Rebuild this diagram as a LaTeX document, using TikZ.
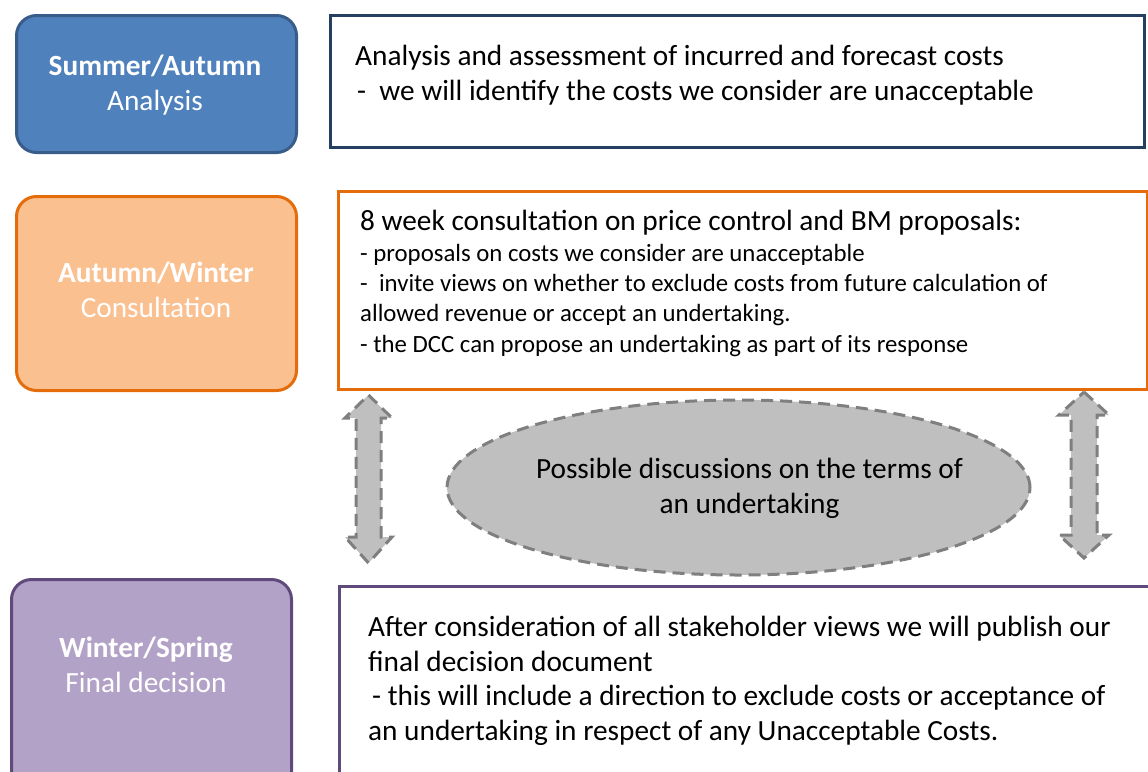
\documentclass[tikz,border=0pt]{standalone}
\usepackage{fontspec}
\setmainfont{Carlito}
\usetikzlibrary{shapes.geometric}
\definecolor{blueF}{HTML}{4F81BD}
\definecolor{blueD}{HTML}{385D8A}
\definecolor{navy}{HTML}{243F60}
\definecolor{orangeF}{HTML}{FAC090}
\definecolor{orangeD}{HTML}{E46C0A}
\definecolor{purpleF}{HTML}{B3A2C7}
\definecolor{purpleD}{HTML}{604A7B}
\definecolor{grayF}{HTML}{BFBFBF}
\definecolor{grayD}{HTML}{7F7F7F}
\begin{document}
\begin{tikzpicture}[x=1pt,y=-1pt,
  phase/.style={draw, line width=3pt, rounded corners=20pt, anchor=north west, inner sep=0pt},
  body/.style={draw, line width=3pt, fill=white, anchor=north west, inner sep=0pt},
  title/.style={anchor=base, inner sep=0pt, align=center, text=white, font=\fontsize{29.3}{35}\selectfont},
  txt/.style={anchor=base west, inner sep=0pt, align=left, font=\fontsize{29.3}{35}\selectfont},
  smalltxt/.style={anchor=base west, inner sep=0pt, align=left, font=\fontsize{24.8}{30.3}\selectfont},
  dashgray/.style={draw=grayD, fill=grayF, line width=3pt, dash pattern=on 12pt off 7pt},
  dblarr/.style={dashgray, line join=miter}]
\useasboundingbox (0,0) rectangle (1148,771);
\clip (0,0) rectangle (1148,771);

% phase boxes
\node[phase, fill=blueF, draw=blueD, minimum width=280pt, minimum height=137pt] (p1) at (15,14) {};
\node[phase, fill=orangeF, draw=orangeD, minimum width=280pt, minimum height=194pt] (p2) at (15,195) {};
\node[phase, fill=purpleF, draw=purpleD, minimum width=280pt, minimum height=260pt] (p3) at (10,578) {};

% (anchor base = baseline of the last line)
\node[title] (t1) at (155,110) {\textbf{Summer/Autumn}\\Analysis};
\node[title] (t2) at (156,317) {\textbf{Autumn/Winter}\\Consultation};
\node[title] (t3) at (146,692) {\textbf{Winter/Spring}\\Final decision};

% body boxes
\node[body, draw=navy, minimum width=814pt, minimum height=132pt] (b1) at (329,14) {};
\node[body, draw=orangeD, minimum width=809pt, minimum height=198pt] (b2) at (337,190) {};
\node[body, draw=purpleD, minimum width=880pt, minimum height=260pt] (b3) at (338,585) {};

\node[txt] (x1) at (355,100) {Analysis and assessment of incurred and forecast costs\\\hspace*{2pt}-\ \ we will identify the costs we consider are unacceptable};

\node[txt] (x2a) at (360,230) {8 week consultation on price control and BM proposals:};
\node[smalltxt] (x2b) at (360,352) {- proposals on costs we consider are unacceptable\\
-\ \ invite views on whether to exclude costs from future calculation of\\
allowed revenue or accept an undertaking.\\
- the DCC can propose an undertaking as part of its response};

\node[txt, font=\fontsize{29.3}{34.5}\selectfont] (x3) at (368,740) {After consideration of all stakeholder views we will publish our\\
final decision document\\
\hspace*{4pt}- this will include a direction to exclude costs or acceptance of\\
an undertaking in respect of any Unacceptable Costs.};

% ellipse
\node[ellipse, dashgray, inner sep=0pt, minimum width=583pt, minimum height=175pt] (e) at (738.5,487.5) {};
\node[align=center, inner sep=0pt, font=\fontsize{29.3}{35}\selectfont] (et) at ([xshift=11pt,yshift=-1pt]e.center)
  {Possible discussions on the terms of\\an undertaking};

% double arrows
\draw[dblarr] (368.5,395) -- (392,418) -- (381,418) -- (381,537) -- (392,537) -- (368.5,563)
  -- (345,537) -- (356,537) -- (356,418) -- (345,418) -- cycle;
\draw[dblarr] (1084,392) -- (1109,415) -- (1097,415) -- (1097,535) -- (1109,535) -- (1084,558)
  -- (1059,535) -- (1071,535) -- (1071,415) -- (1059,415) -- cycle;
\end{tikzpicture}
\end{document}
